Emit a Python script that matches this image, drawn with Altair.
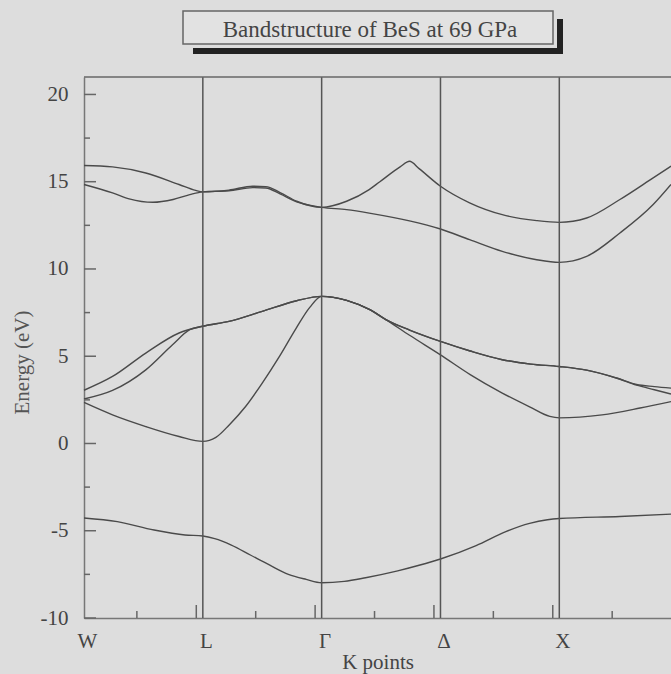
import json
import altair as alt
import pandas as pd

# High-symmetry points along the k-path (W=0, L=1, Γ=2, Δ=3, X=4); panel is cut at K_MAX
k_points = [0, 1, 2, 3, 4]
k_labels = ["W", "L", "Γ", "Δ", "X"]
K_MAX = 4.94

energy_ticks = [-10, -5, 0, 5, 10, 15, 20]
energy_minor = [-7.5, -2.5, 2.5, 7.5, 12.5, 17.5]
k_major_ticks = [0.945, 1.945, 2.945, 3.945]
k_minor_ticks = [0.445, 1.445, 2.445, 3.445, 4.445]

# Band energies (eV) sampled along the path
band1_k = [0, 0.28, 0.59, 0.85, 1.0, 1.10, 1.24, 1.40, 1.56, 1.72, 1.87, 2.0, 2.19, 2.37,
           2.64, 2.82, 3.0, 3.30, 3.55, 3.75, 3.90, 4.0, 4.51, 4.94]
band1_e = [-4.27, -4.48, -4.96, -5.24, -5.30, -5.45, -5.82, -6.39, -6.96, -7.50, -7.79, -7.98,
           -7.90, -7.69, -7.30, -6.98, -6.62, -5.85, -5.05, -4.58, -4.37, -4.30, -4.18, -4.05]

band2_k = [0, 0.24, 0.52, 0.80, 1.0, 1.11, 1.22, 1.36, 1.50, 1.645, 1.785, 1.90, 2.0, 2.21,
           2.41, 2.54, 2.74, 3.0, 3.25, 3.52, 3.75, 3.92, 4.0, 4.36, 4.68, 4.94]
band2_e = [2.35, 1.64, 0.97, 0.40, 0.12, 0.35, 1.05, 2.12, 3.46, 4.99, 6.60, 7.80, 8.43, 8.20,
           7.65, 7.10, 6.20, 5.08, 3.95, 2.89, 2.10, 1.55, 1.47, 1.64, 2.03, 2.40]

band3_k = [0, 0.24, 0.52, 0.745, 0.89, 1.0, 1.22, 1.50, 1.79, 2.0, 2.21, 2.41, 2.54, 2.74,
           3.0, 3.25, 3.52, 3.76, 4.0, 4.23, 4.48, 4.65, 4.80, 4.94]
band3_e = [2.55, 3.04, 4.22, 5.66, 6.52, 6.72, 7.00, 7.57, 8.18, 8.43, 8.20, 7.65, 7.10, 6.50,
           5.85, 5.30, 4.80, 4.55, 4.41, 4.20, 3.75, 3.34, 3.08, 2.83]

band4_k = [0, 0.24, 0.52, 0.80, 1.0, 1.22, 1.50, 1.79, 2.0, 2.21, 2.41, 2.54, 2.74,
           3.0, 3.25, 3.52, 3.76, 4.0, 4.23, 4.48, 4.65, 4.80, 4.94]
band4_e = [3.05, 3.84, 5.18, 6.33, 6.72, 7.00, 7.57, 8.18, 8.43, 8.20, 7.65, 7.10, 6.50,
           5.85, 5.30, 4.80, 4.55, 4.41, 4.20, 3.75, 3.38, 3.26, 3.17]

band5_k = [0, 0.24, 0.38, 0.58, 0.75, 0.89, 1.0, 1.22, 1.42, 1.53, 1.65, 1.79, 2.0, 2.21,
           2.40, 3.0, 3.245, 3.52, 3.81, 4.0, 4.23, 4.51, 4.79, 4.94]
band5_e = [14.84, 14.36, 14.02, 13.82, 13.98, 14.26, 14.42, 14.48, 14.66, 14.64, 14.30, 13.84,
           13.53, 13.40, 13.20, 12.29, 11.68, 11.01, 10.53, 10.38, 10.72, 12.06, 13.69, 14.84]

band6_k = [0, 0.24, 0.52, 0.80, 0.94, 1.0, 1.22, 1.42, 1.53, 1.65, 1.79, 2.0, 2.21, 2.40,
           2.49, 2.66, 2.74, 2.82, 3.0, 3.245, 3.52, 3.81, 4.0, 4.23, 4.51, 4.79, 4.94]
band6_e = [15.93, 15.85, 15.50, 14.84, 14.50, 14.42, 14.52, 14.74, 14.72, 14.38, 13.88, 13.53,
           13.88, 14.55, 15.00, 15.85, 16.17, 15.75, 14.74, 13.79, 13.11, 12.77, 12.67, 12.92,
           13.98, 15.22, 15.89]

bands = [
    (band1_k, band1_e), (band2_k, band2_e), (band3_k, band3_e),
    (band4_k, band4_e), (band5_k, band5_e), (band6_k, band6_e),
]

rows = []
for b, (ks, es) in enumerate(bands, start=1):
    for i, (k, e) in enumerate(zip(ks, es)):
        rows.append({"band": b, "i": i, "k": k, "E": e})
band_df = pd.DataFrame(rows)

W, H = 587, 541
FONT = "Liberation Serif"
INK = "#4a4a4a"
BG = "#dddddd"

xs = alt.Scale(domain=[0, K_MAX], nice=False, zero=False)
ys = alt.Scale(domain=[-10, 21], nice=False, zero=False)

label_expr = "%s[datum.value]" % json.dumps(k_labels, ensure_ascii=False)

x_axis = alt.Axis(
    values=k_points, labelExpr=label_expr, title="K points", grid=False,
    ticks=False, tickSize=0, labelPadding=12, labelOffset=3, labelFlush=False,
    labelOverlap=False, labelFontSize=21, labelFont=FONT, labelColor="#444",
    titleFont=FONT, titleFontSize=21, titleFontWeight="normal", titleColor="#444",
    titleBaseline="alphabetic", titleY=50, domainColor="#777", domainWidth=1.5,
)
y_axis = alt.Axis(
    values=energy_ticks, labelExpr="datum.value + ''", title="Energy (eV)", grid=False,
    ticks=False, tickSize=0,
    labelPadding=16, labelFontSize=21, labelFont=FONT, labelColor="#444", labelFlush=False,
    titleFont=FONT, titleFontSize=21, titleFontWeight="normal", titleColor="#555",
    titleAngle=270, titleAlign="center", titleBaseline="middle", titleX=-62, titleY=285,
    domainColor="#777", domainWidth=1.5,
)


def kx(field):
    return alt.X(field, type="quantitative", scale=xs, axis=x_axis)


def ey(field):
    return alt.Y(field, type="quantitative", scale=ys, axis=y_axis)


lines = alt.Chart(band_df).mark_line(
    interpolate="monotone", color=INK, strokeWidth=1.4
).encode(
    x=kx("k"),
    y=ey("E"),
    detail="band:N",
    order="i:Q",
)

# vertical lines at the interior high-symmetry points
kline_df = pd.DataFrame({"k": k_points[1:]})
klines = alt.Chart(kline_df).mark_rule(color="#555", strokeWidth=1.5).encode(x=kx("k"))

top_border = alt.Chart(pd.DataFrame({"E": [21]})).mark_rule(
    color="#666", strokeWidth=1.5
).encode(y=ey("E"))

# inward ticks on the energy axis
ytick_major = alt.Chart(pd.DataFrame({"E": energy_ticks})).mark_rule(
    color="#666", strokeWidth=1.5
).encode(y=ey("E"), x=alt.value(0), x2=alt.value(12))
ytick_minor = alt.Chart(pd.DataFrame({"E": energy_minor})).mark_rule(
    color="#666", strokeWidth=1.5
).encode(y=ey("E"), x=alt.value(0), x2=alt.value(6))

# inward ticks on the k axis
xtick_major = alt.Chart(pd.DataFrame({"k": k_major_ticks})).mark_rule(
    color="#666", strokeWidth=1.5
).encode(x=kx("k"), y=alt.value(H), y2=alt.value(H - 13))
xtick_minor = alt.Chart(pd.DataFrame({"k": k_minor_ticks})).mark_rule(
    color="#666", strokeWidth=1.5
).encode(x=kx("k"), y=alt.value(H), y2=alt.value(H - 7))

# boxed title with a drop shadow
one = alt.Data(values=[{}])
shadow_bottom = alt.Chart(one).mark_rect(color="#222").encode(
    x=alt.value(109), x2=alt.value(479), y=alt.value(-29), y2=alt.value(-23)
)
shadow_right = alt.Chart(one).mark_rect(color="#222").encode(
    x=alt.value(473), x2=alt.value(479), y=alt.value(-58), y2=alt.value(-29)
)
title_box = alt.Chart(one).mark_rect(fill="#e2e2e2", stroke="#666", strokeWidth=1.5).encode(
    x=alt.value(99), x2=alt.value(469), y=alt.value(-66), y2=alt.value(-33)
)
title_text = alt.Chart(one).mark_text(
    text="Bandstructure of BeS at 69 GPa", font=FONT, fontSize=23, color="#444",
    align="center", baseline="alphabetic"
).encode(x=alt.value(286), y=alt.value(-40))

chart = alt.layer(
    lines, klines, top_border, ytick_major, ytick_minor, xtick_major, xtick_minor,
    shadow_bottom, shadow_right, title_box, title_text,
).properties(
    width=W, height=H,
    padding={"left": 84, "top": 77, "right": 0, "bottom": 56},
    autosize=alt.AutoSizeParams(type="none"),
).configure(
    background=BG,
).configure_view(stroke=None)

chart.save("out.html", embed_options={"renderer": "svg", "actions": False})
